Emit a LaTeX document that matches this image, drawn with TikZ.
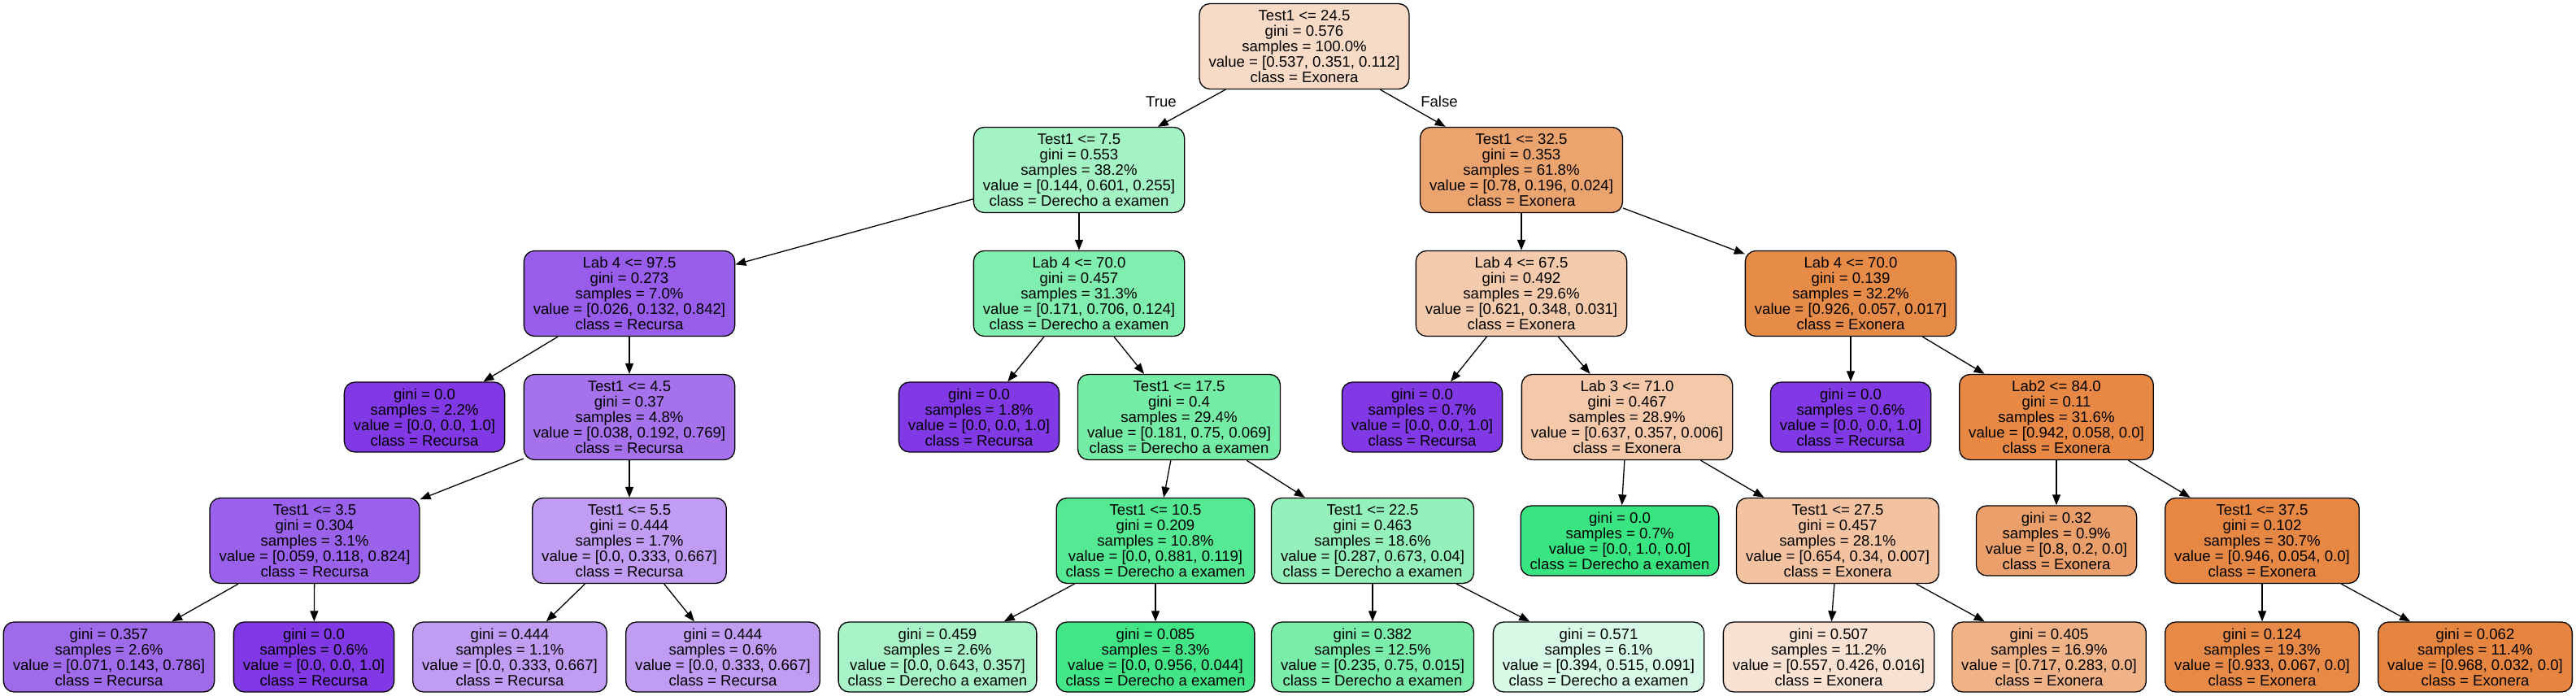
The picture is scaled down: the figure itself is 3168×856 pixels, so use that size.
\documentclass[tikz,border=0pt]{standalone}
\usepackage{fontspec}
\setmainfont{Liberation Sans}
\usetikzlibrary{arrows.meta}
\definecolor{cO}{RGB}{229,129,57}
\definecolor{cG}{RGB}{57,229,129}
\definecolor{cP}{RGB}{129,57,229}
\begin{document}
\begin{tikzpicture}[x=1pt,y=-1pt,
  tn/.style={draw=black, line width=1.3pt, rectangle, rounded corners=13pt, align=center,
     inner xsep=11.5pt, inner ysep=0pt, font=\fontsize{18.6}{19}\selectfont},
  tfive/.style={tn, minimum height=105pt},
  tfour/.style={tn, minimum height=86pt},
  edge/.style={draw=black, line width=1.3pt, -{Triangle[length=13pt,width=10pt]}},
  lab/.style={font=\fontsize{18.6}{19}\selectfont, inner sep=0pt}]
\useasboundingbox (0,0) rectangle (3168,856);
% row 0
\node[tfive, fill=cO!28.7] (n0) at (1604,57) {Test1 <= 24.5\\gini = 0.576\\samples = 100.0\%\\value = [0.537, 0.351, 0.112]\\class = Exonera};
% row 1
\node[tfive, fill=cG!46.4] (n1) at (1327,209) {Test1 <= 7.5\\gini = 0.553\\samples = 38.2\%\\value = [0.144, 0.601, 0.255]\\class = Derecho a examen};
\node[tfive, fill=cO!72.6] (n2) at (1871,209) {Test1 <= 32.5\\gini = 0.353\\samples = 61.8\%\\value = [0.78, 0.196, 0.024]\\class = Exonera};
% row 2
\node[tfive, fill=cP!81.8] (n3) at (774,361) {Lab 4 <= 97.5\\gini = 0.273\\samples = 7.0\%\\value = [0.026, 0.132, 0.842]\\class = Recursa};
\node[tfive, fill=cG!64.5] (n4) at (1327,361) {Lab 4 <= 70.0\\gini = 0.457\\samples = 31.3\%\\value = [0.171, 0.706, 0.124]\\class = Derecho a examen};
\node[tfive, fill=cO!41.9] (n5) at (1871,361) {Lab 4 <= 67.5\\gini = 0.492\\samples = 29.6\%\\value = [0.621, 0.348, 0.031]\\class = Exonera};
\node[tfive, fill=cO!92.2] (n6) at (2276,361) {Lab 4 <= 70.0\\gini = 0.139\\samples = 32.2\%\\value = [0.926, 0.057, 0.017]\\class = Exonera};
% row 3
\node[tfour, fill=cP] (n7) at (522,513) {gini = 0.0\\samples = 2.2\%\\value = [0.0, 0.0, 1.0]\\class = Recursa};
\node[tfive, fill=cP!71.4] (n8) at (774,513) {Test1 <= 4.5\\gini = 0.37\\samples = 4.8\%\\value = [0.038, 0.192, 0.769]\\class = Recursa};
\node[tfour, fill=cP] (n9) at (1204,513) {gini = 0.0\\samples = 1.8\%\\value = [0.0, 0.0, 1.0]\\class = Recursa};
\node[tfive, fill=cG!69.5] (n10) at (1450,513) {Test1 <= 17.5\\gini = 0.4\\samples = 29.4\%\\value = [0.181, 0.75, 0.069]\\class = Derecho a examen};
\node[tfour, fill=cP] (n11) at (1749,513) {gini = 0.0\\samples = 0.7\%\\value = [0.0, 0.0, 1.0]\\class = Recursa};
\node[tfive, fill=cO!43.6] (n12) at (2001,513) {Lab 3 <= 71.0\\gini = 0.467\\samples = 28.9\%\\value = [0.637, 0.357, 0.006]\\class = Exonera};
\node[tfour, fill=cP] (n13) at (2276,513) {gini = 0.0\\samples = 0.6\%\\value = [0.0, 0.0, 1.0]\\class = Recursa};
\node[tfive, fill=cO!93.8] (n14) at (2529,513) {Lab2 <= 84.0\\gini = 0.11\\samples = 31.6\%\\value = [0.942, 0.058, 0.0]\\class = Exonera};
% row 4
\node[tfive, fill=cP!80.0] (n15) at (387,665) {Test1 <= 3.5\\gini = 0.304\\samples = 3.1\%\\value = [0.059, 0.118, 0.824]\\class = Recursa};
\node[tfive, fill=cP!50] (n16) at (774,665) {Test1 <= 5.5\\gini = 0.444\\samples = 1.7\%\\value = [0.0, 0.333, 0.667]\\class = Recursa};
\node[tfive, fill=cG!86.5] (n17) at (1421,665) {Test1 <= 10.5\\gini = 0.209\\samples = 10.8\%\\value = [0.0, 0.881, 0.119]\\class = Derecho a examen};
\node[tfive, fill=cG!54.1] (n18) at (1688,665) {Test1 <= 22.5\\gini = 0.463\\samples = 18.6\%\\value = [0.287, 0.673, 0.04]\\class = Derecho a examen};
\node[tfour, fill=cG] (n19) at (1992,665) {gini = 0.0\\samples = 0.7\%\\value = [0.0, 1.0, 0.0]\\class = Derecho a examen};
\node[tfive, fill=cO!47.6] (n20) at (2260,665) {Test1 <= 27.5\\gini = 0.457\\samples = 28.1\%\\value = [0.654, 0.34, 0.007]\\class = Exonera};
\node[tfour, fill=cO!75] (n21) at (2529,665) {gini = 0.32\\samples = 0.9\%\\value = [0.8, 0.2, 0.0]\\class = Exonera};
\node[tfive, fill=cO!94.3] (n22) at (2782,665) {Test1 <= 37.5\\gini = 0.102\\samples = 30.7\%\\value = [0.946, 0.054, 0.0]\\class = Exonera};
% row 5
\node[tfour, fill=cP!75.0] (n23) at (134,808) {gini = 0.357\\samples = 2.6\%\\value = [0.071, 0.143, 0.786]\\class = Recursa};
\node[tfour, fill=cP] (n24) at (386,808) {gini = 0.0\\samples = 0.6\%\\value = [0.0, 0.0, 1.0]\\class = Recursa};
\node[tfour, fill=cP!50] (n25) at (627,808) {gini = 0.444\\samples = 1.1\%\\value = [0.0, 0.333, 0.667]\\class = Recursa};
\node[tfour, fill=cP!50] (n26) at (889,808) {gini = 0.444\\samples = 0.6\%\\value = [0.0, 0.333, 0.667]\\class = Recursa};
\node[tfour, fill=cG!44.5] (n27) at (1153,808) {gini = 0.459\\samples = 2.6\%\\value = [0.0, 0.643, 0.357]\\class = Derecho a examen};
\node[tfour, fill=cG!95.4] (n28) at (1421,808) {gini = 0.085\\samples = 8.3\%\\value = [0.0, 0.956, 0.044]\\class = Derecho a examen};
\node[tfour, fill=cG!67.3] (n29) at (1688,808) {gini = 0.382\\samples = 12.5\%\\value = [0.235, 0.75, 0.015]\\class = Derecho a examen};
\node[tfour, fill=cG!20.0] (n30) at (1966,808) {gini = 0.571\\samples = 6.1\%\\value = [0.394, 0.515, 0.091]\\class = Derecho a examen};
\node[tfour, fill=cO!22.8] (n31) at (2249,808) {gini = 0.507\\samples = 11.2\%\\value = [0.557, 0.426, 0.016]\\class = Exonera};
\node[tfour, fill=cO!60.5] (n32) at (2520,808) {gini = 0.405\\samples = 16.9\%\\value = [0.717, 0.283, 0.0]\\class = Exonera};
\node[tfour, fill=cO!92.8] (n33) at (2782,808) {gini = 0.124\\samples = 19.3\%\\value = [0.933, 0.067, 0.0]\\class = Exonera};
\node[tfour, fill=cO!96.7] (n34) at (3044,808) {gini = 0.062\\samples = 11.4\%\\value = [0.968, 0.032, 0.0]\\class = Exonera};
% labels
\node[lab] (tl) at (1428,125) {True};
\node[lab] (fl) at (1770,125) {False};
% edges
\foreach \a/\b in {n0/n1,n0/n2,n1/n3,n1/n4,n2/n5,n2/n6,n3/n7,n3/n8,n4/n9,n4/n10,n5/n11,n5/n12,n6/n13,n6/n14,n8/n15,n8/n16,n10/n17,n10/n18,n12/n19,n12/n20,n14/n21,n14/n22,n15/n23,n15/n24,n16/n25,n16/n26,n17/n27,n17/n28,n18/n29,n18/n30,n20/n31,n20/n32,n22/n33,n22/n34}
  \draw[edge] (\a) -- (\b);
\end{tikzpicture}
\end{document}
